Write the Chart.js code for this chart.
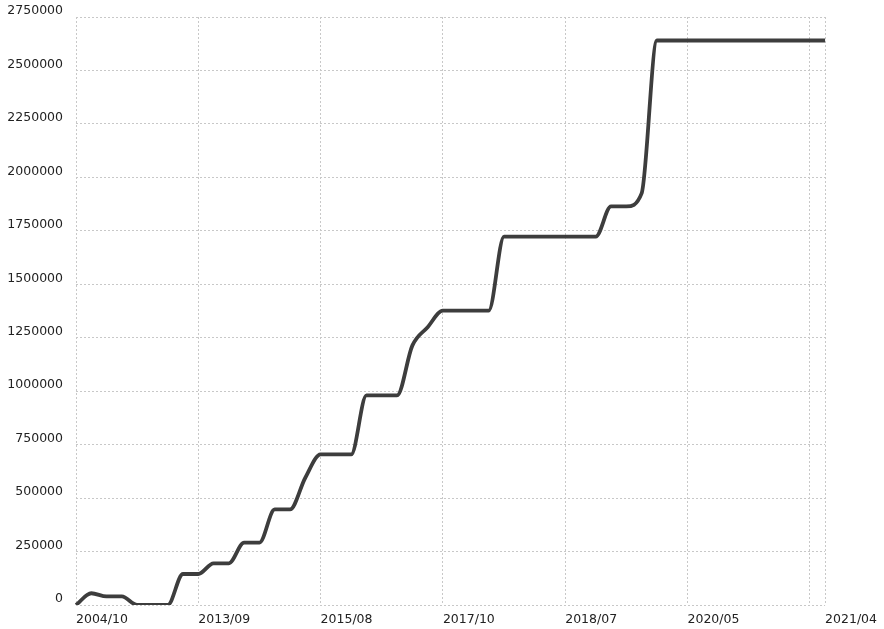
<!DOCTYPE html>
<html>
<head>
<meta charset="utf-8">
<script src="https://cdn.jsdelivr.net/npm/chart.js@4/dist/chart.umd.min.js"></script>
<style>
html,body{margin:0;padding:0;background:#fff;}
#wrap{width:884px;height:629px;position:relative;}
</style>
</head>
<body>
<div id="wrap"><canvas id="c" width="884" height="629"></canvas></div>
<script>
const categories = [
  "2004/10","2005/09","2006/08","2007/10","2008/09","2009/11","2010/12","2012/03",
  "2013/09","2013/12","2014/02","2014/04","2014/07","2014/09","2014/12","2015/04",
  "2015/08","2015/11","2016/02","2016/05","2016/08","2016/11","2017/02","2017/06",
  "2017/10","2017/11","2017/12","2018/01","2018/02","2018/03","2018/04","2018/05",
  "2018/07","2018/10","2019/01","2019/04","2019/07","2019/10","2020/01","2020/03",
  "2020/05","2020/06","2020/07","2020/08","2020/09","2020/10","2020/11","2020/12",
  "2021/02","2021/04"
];
const values = [
  0, 55000, 40000, 40000, 0, 0, 0, 145000,
  145000, 195000, 195000, 292000, 292000, 447000, 447000, 595000,
  704000, 704000, 704000, 980000, 980000, 980000, 1213000, 1299000,
  1377000, 1377000, 1377000, 1377000, 1723000, 1723000, 1723000, 1723000,
  1723000, 1723000, 1723000, 1864000, 1864000, 1925000, 2640000, 2640000,
  2640000, 2640000, 2640000, 2640000, 2640000, 2640000, 2640000, 2640000,
  2640000, 2640000
];
const shownTickLabels = ["2004/10","2013/09","2015/08","2017/10","2018/07","2020/05","2021/04"];
const gridOnlyTicks = ["2021/02"];
const yTicks = [0,250000,500000,750000,1000000,1250000,1500000,1750000,2000000,2250000,2500000,2750000];

const font = {family: "'DejaVu Sans', Verdana, sans-serif", size: 12.5};
new Chart(document.getElementById('c'), {
  type: 'line',
  data: {
    labels: categories,
    datasets: [{
      data: values,
      borderColor: '#3d3d3d',
      borderWidth: 3.8,
      pointRadius: 0,
      fill: false,
      cubicInterpolationMode: 'monotone'
    }]
  },
  options: {
    responsive: false,
    animation: false,
    layout: {padding: {left: 6, top: 17, right: 9, bottom: 0}},
    plugins: {legend: {display: false}, tooltip: {enabled: false}},
    scales: {
      x: {
        type: 'category',
        offset: false,
        border: {display: false, dash: [2,2]},
        grid: {color: '#c8c8c8', lineWidth: 1, drawTicks: false},
        afterFit: function(axis){ axis.height = 24; },
        ticks: {
          autoSkip: false, maxRotation: 0, minRotation: 0, align: 'start',
          padding: 7, color: '#222', font: font,
          callback: function(v, i) {
            const l = categories[i];
            if (shownTickLabels.includes(l)) return l;
            if (gridOnlyTicks.includes(l)) return '';
            return null;
          }
        }
      },
      y: {
        min: yTicks[0], max: yTicks[yTicks.length-1],
        border: {display: false, dash: [2,2]},
        afterBuildTicks: function(axis){ axis.ticks = yTicks.map(v => ({value: v})); },
        afterFit: function(axis){ axis.width = 70; axis.paddingTop = 0; axis.paddingBottom = 0; },
        grid: {color: '#c8c8c8', lineWidth: 1, drawTicks: false},
        ticks: {padding: 13, labelOffset: -6, color: '#222', font: font,
          callback: function(v){ return String(v); }}
      }
    }
  }
});
</script>
</body>
</html>
